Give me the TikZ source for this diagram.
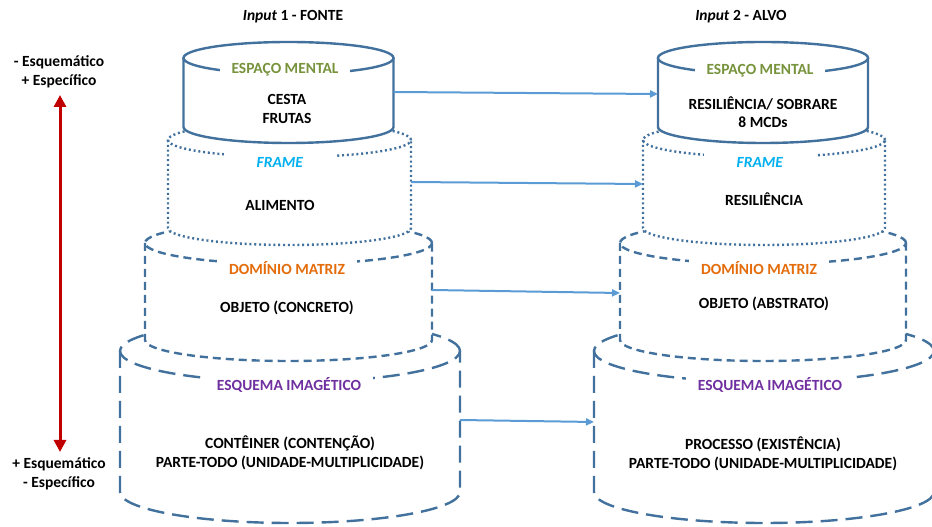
\documentclass[tikz,border=0pt]{standalone}
\usepackage{fontspec}
\setmainfont{Carlito}
\usetikzlibrary{arrows.meta}

\definecolor{canline}{HTML}{41719C}
\definecolor{linkblue}{HTML}{5B9BD5}
\definecolor{scalered}{HTML}{C00000}
\definecolor{mentalgreen}{HTML}{77933C}
\definecolor{framecyan}{HTML}{00B0F0}
\definecolor{domorange}{HTML}{E46C0A}
\definecolor{schemapurple}{HTML}{7030A0}

% a can: #1 centre x, #2 top y, #3 bottom y, #4 x radius, #5 y radius, #6 line style
\newcommand\drawcan[6]{%
  \fill[white] ({#1-#4},#2) -- ({#1-#4},#3)
    arc[start angle=180,end angle=360,x radius=#4,y radius=#5]
    -- ({#1+#4},#2)
    arc[start angle=0,end angle=180,x radius=#4,y radius=#5] -- cycle;
  \draw[#6] (#1,#2) ellipse[x radius=#4,y radius=#5];
  \draw[#6] ({#1-#4},#2) -- ({#1-#4},#3)
    arc[start angle=180,end angle=360,x radius=#4,y radius=#5]
    -- ({#1+#4},#2);
}

\tikzset{
  solidcan/.style={draw=canline, line width=2.4pt},
  dotcan/.style={draw=canline, line width=2.4pt, dash pattern=on 2pt off 2.8pt},
  dashcan/.style={draw=canline, line width=2.4pt, dash pattern=on 8pt off 5pt},
  longdashcan/.style={draw=canline, line width=2.4pt, dash pattern=on 17pt off 8pt},
  layerlabel/.style={fill=white, inner xsep=12pt, inner ysep=4pt},
  body/.style={inner sep=0pt, align=center, text=black},
  link/.style={draw=linkblue, line width=2pt, -{Triangle[length=8pt,width=7pt]}},
  scale arrow/.style={draw=scalered, line width=3pt,
    {Triangle[length=12pt,width=12pt]}-{Triangle[length=12pt,width=12pt]}},
}

\begin{document}
\begin{tikzpicture}[x=1pt, y=1pt, font=\fontsize{15.5}{18.5}\selectfont\bfseries]
\useasboundingbox (0,0) rectangle (932,527);
\clip (0,0) rectangle (932,527);

% ---------- titles ----------
\node[body] (t1) at (293,510) {\textit{Input} 1 - FONTE};
\node[body] (t2) at (741,510) {\textit{Input} 2 - ALVO};

% ---------- scale on the left ----------
\node[body] (moreSpec) at (59,455) {- Esquemático\\+ Específico};
\node[body] (moreSchem) at (59,53) {+ Esquemático\\- Específico};
\coordinate (scaleTop) at (60,432);
\coordinate (scaleBot) at (60,75);
\draw[scale arrow] (scaleTop) -- (scaleBot);

% ---------- source column (bottom layer first) ----------
\drawcan{290}{176}{35}{170}{31}{longdashcan}
\node[layerlabel, text=schemapurple] (esqL) at (289,142) {ESQUEMA IMAGÉTICO};
\node[body] (esqTextL) at (290,74) {CONTÊINER (CONTENÇÃO)\\PARTE-TODO (UNIDADE-MULTIPLICIDADE)};

\drawcan{288.5}{284}{187}{143.5}{21}{dashcan}
\node[layerlabel, text=domorange] (domL) at (287,259) {DOMÍNIO MATRIZ};
\node[body] (domTextL) at (287,219) {OBJETO (CONCRETO)};

\drawcan{289.5}{387}{299}{121.5}{17}{dotcan}
\node[layerlabel, text=framecyan, minimum width=112pt] (frameL) at (280,365) {\textit{FRAME}};
\node[body] (frameTextL) at (280,322) {ALIMENTO};

\drawcan{288.5}{469}{400}{105}{16}{solidcan}
\node[layerlabel, text=mentalgreen] (emL) at (285,457) {ESPAÇO MENTAL};
\node[body] (emTextL) at (287,418) {CESTA\\FRUTAS};

% ---------- target column ----------
\drawcan{764}{176}{35}{170}{31}{longdashcan}
\node[layerlabel, text=schemapurple] (esqR) at (770,142) {ESQUEMA IMAGÉTICO};
\node[body] (esqTextR) at (763,73) {PROCESSO (EXISTÊNCIA)\\PARTE-TODO (UNIDADE-MULTIPLICIDADE)};

\drawcan{763}{284}{187}{143}{21}{dashcan}
\node[layerlabel, text=domorange] (domR) at (759,259) {DOMÍNIO MATRIZ};
\node[body] (domTextR) at (764,223) {OBJETO (ABSTRATO)};

\drawcan{764}{387}{299}{121}{17}{dotcan}
\node[layerlabel, text=framecyan, minimum width=112pt] (frameR) at (760,365) {\textit{FRAME}};
\node[body] (frameTextR) at (764,328) {RESILIÊNCIA};

\drawcan{763}{469}{400}{105}{16}{solidcan}
\node[layerlabel, text=mentalgreen] (emR) at (760,456) {ESPAÇO MENTAL};
\node[body] (emTextR) at (763,415) {RESILIÊNCIA/ SOBRARE\\8 MCDs};

% ---------- correspondences between the two inputs ----------
\coordinate (emOut) at (393.5,435);
\coordinate (emIn) at (658,433);
\coordinate (frameOut) at (411,345);
\coordinate (frameIn) at (643,343);
\coordinate (domOut) at (432,237);
\coordinate (domIn) at (620,234);
\coordinate (esqOut) at (460,107);
\coordinate (esqIn) at (594,105);
\draw[link] (emOut) -- (emIn);
\draw[link] (frameOut) -- (frameIn);
\draw[link] (domOut) -- (domIn);
\draw[link] (esqOut) -- (esqIn);
\end{tikzpicture}
\end{document}
